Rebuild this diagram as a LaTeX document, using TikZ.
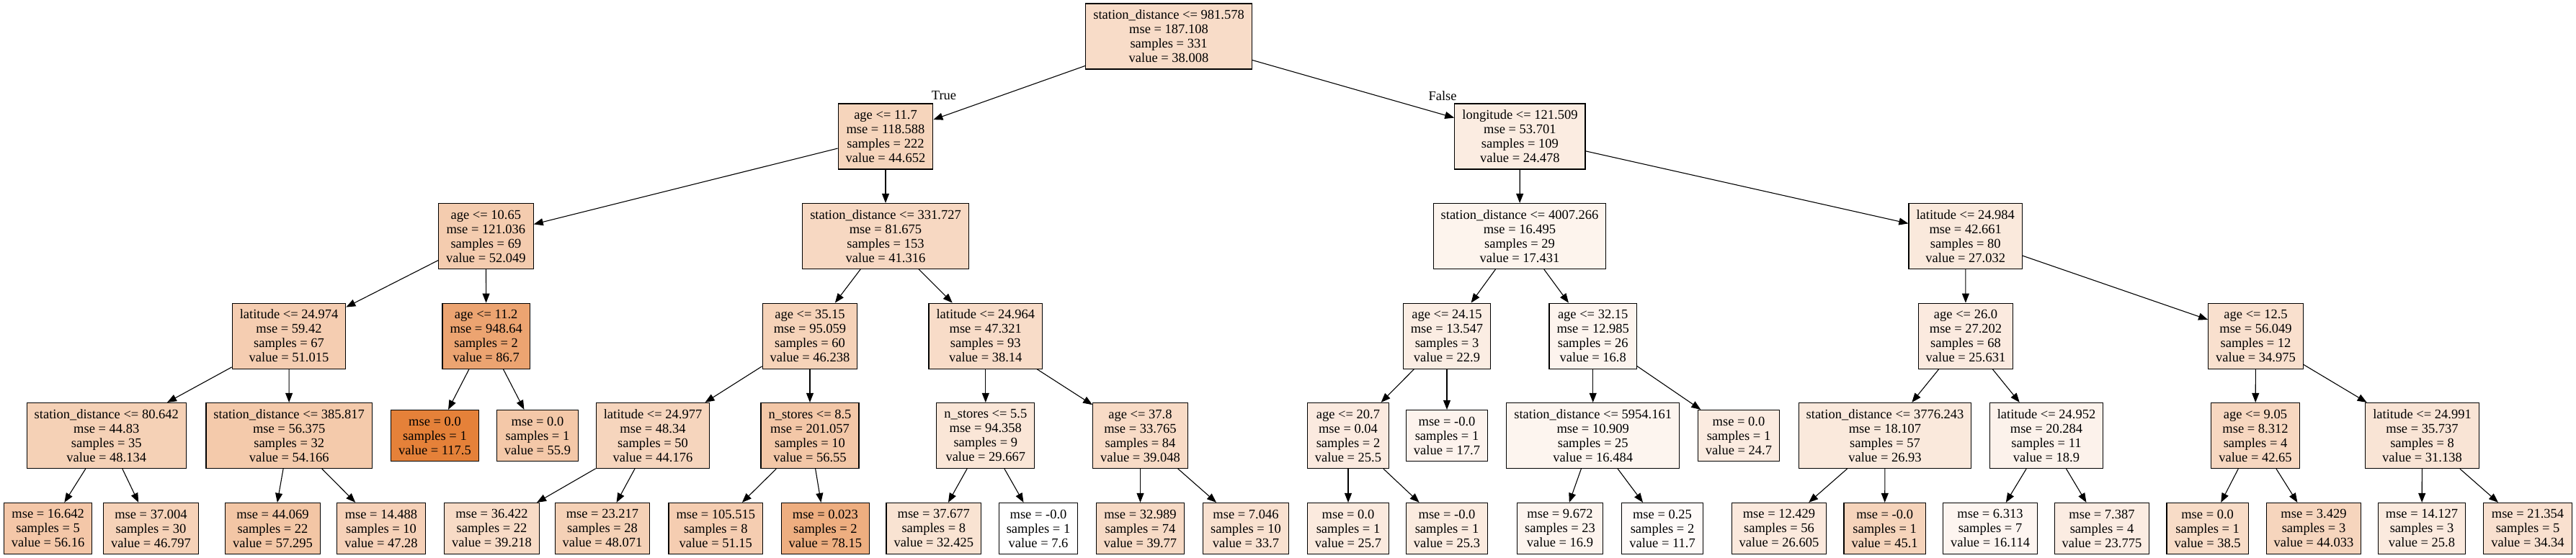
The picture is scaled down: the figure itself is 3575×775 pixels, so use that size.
\documentclass[tikz,border=0pt]{standalone}
\usepackage{fontspec}
\setmainfont{Liberation Serif}
\usepackage{tikz}
\usetikzlibrary{arrows.meta}
\definecolor{dtorange}{RGB}{229,129,57}
\tikzset{
  treebox/.style={draw, line width=1.2pt, rectangle, align=center, inner xsep=10.5pt, inner ysep=0pt, font=\fontsize{18.5}{20}\selectfont},
  splitbox/.style={treebox, minimum height=91pt, fill=dtorange!#1},
  leafbox/.style={treebox, minimum height=71pt, fill=dtorange!#1},
  edgelbl/.style={inner sep=0pt, font=\fontsize{18.5}{20}\selectfont}
}
\begin{document}
\begin{tikzpicture}[x=1pt, y=-1pt, line width=1.1pt, >={Triangle[length=13pt,width=10pt]}]
  \useasboundingbox (0,0) rectangle (3575,775);

  \node[splitbox=27.67] at (1622,50.5) (root) {station\_distance <= 981.578\\mse = 187.108\\samples = 331\\value = 38.008};

  \node[splitbox=33.71] at (1229,189.5) (nL) {age <= 11.7\\mse = 118.588\\samples = 222\\value = 44.652};
  \node[splitbox=15.36] at (2109.4,189.5) (nR) {longitude <= 121.509\\mse = 53.701\\samples = 109\\value = 24.478};

  \node[splitbox=40.45] at (674.4,328) (nLL) {age <= 10.65\\mse = 121.036\\samples = 69\\value = 52.049};
  \node[splitbox=30.68] at (1229,328) (nLR) {station\_distance <= 331.727\\mse = 81.675\\samples = 153\\value = 41.316};
  \node[splitbox=8.95] at (2109,328) (nRL) {station\_distance <= 4007.266\\mse = 16.495\\samples = 29\\value = 17.431};
  \node[splitbox=17.68] at (2727.7,328) (nRR) {latitude <= 24.984\\mse = 42.661\\samples = 80\\value = 27.032};

  \node[splitbox=39.50] at (401,466.7) (nLLL) {latitude <= 24.974\\mse = 59.42\\samples = 67\\value = 51.015};
  \node[splitbox=71.97] at (674.7,466.7) (nLLR) {age <= 11.2\\mse = 948.64\\samples = 2\\value = 86.7};
  \node[splitbox=35.16] at (1124,466.7) (nLRL) {age <= 35.15\\mse = 95.059\\samples = 60\\value = 46.238};
  \node[splitbox=27.79] at (1367.8,466.7) (nLRR) {latitude <= 24.964\\mse = 47.321\\samples = 93\\value = 38.14};
  \node[splitbox=13.92] at (2008,466.7) (nRLL) {age <= 24.15\\mse = 13.547\\samples = 3\\value = 22.9};
  \node[splitbox=8.37] at (2210.7,466.7) (nRLR) {age <= 32.15\\mse = 12.985\\samples = 26\\value = 16.8};
  \node[splitbox=16.41] at (2728,466.7) (nRRL) {age <= 26.0\\mse = 27.202\\samples = 68\\value = 25.631};
  \node[splitbox=24.91] at (3130.5,466.7) (nRRR) {age <= 12.5\\mse = 56.049\\samples = 12\\value = 34.975};

  \node[splitbox=36.88] at (147.8,605) (nLLLL) {station\_distance <= 80.642\\mse = 44.83\\samples = 35\\value = 48.134};
  \node[splitbox=42.37] at (401.2,605) (nLLLR) {station\_distance <= 385.817\\mse = 56.375\\samples = 32\\value = 54.166};
  \node[leafbox=100] at (603.5,605) (nLLRL) {mse = 0.0\\samples = 1\\value = 117.5};
  \node[leafbox=43.95] at (746,605) (nLLRR) {mse = 0.0\\samples = 1\\value = 55.9};
  \node[splitbox=33.28] at (906,605) (nLRLL) {latitude <= 24.977\\mse = 48.34\\samples = 50\\value = 44.176};
  \node[splitbox=44.54] at (1124,605) (nLRLR) {n\_stores <= 8.5\\mse = 201.057\\samples = 10\\value = 56.55};
  \node[splitbox=20.08] at (1367.8,605) (nLRRL) {n\_stores <= 5.5\\mse = 94.358\\samples = 9\\value = 29.667};
  \node[splitbox=28.62] at (1582.5,605) (nLRRR) {age <= 37.8\\mse = 33.765\\samples = 84\\value = 39.048};
  \node[splitbox=16.29] at (1871,605) (nRLLL) {age <= 20.7\\mse = 0.04\\samples = 2\\value = 25.5};
  \node[leafbox=9.19] at (2008,605) (nRLLR) {mse = -0.0\\samples = 1\\value = 17.7};
  \node[splitbox=8.08] at (2210.7,605) (nRLRL) {station\_distance <= 5954.161\\mse = 10.909\\samples = 25\\value = 16.484};
  \node[leafbox=15.56] at (2413,605) (nRLRR) {mse = 0.0\\samples = 1\\value = 24.7};
  \node[splitbox=17.59] at (2616,605) (nRRLL) {station\_distance <= 3776.243\\mse = 18.107\\samples = 57\\value = 26.93};
  \node[splitbox=10.28] at (2840,605) (nRRLR) {latitude <= 24.952\\mse = 20.284\\samples = 11\\value = 18.9};
  \node[splitbox=31.89] at (3130,605) (nRRRL) {age <= 9.05\\mse = 8.312\\samples = 4\\value = 42.65};
  \node[splitbox=21.42] at (3361.5,605) (nRRRR) {latitude <= 24.991\\mse = 35.737\\samples = 8\\value = 31.138};

  \node[leafbox=44.19] at (66.6,734) (nLLLLL) {mse = 16.642\\samples = 5\\value = 56.16};
  \node[leafbox=35.67] at (209.5,734) (nLLLLR) {mse = 37.004\\samples = 30\\value = 46.797};
  \node[leafbox=45.22] at (378.5,734) (nLLLRL) {mse = 44.069\\samples = 22\\value = 57.295};
  \node[leafbox=36.11] at (529,734) (nLLLRR) {mse = 14.488\\samples = 10\\value = 47.28};
  \node[leafbox=28.77] at (682.5,734) (nLRLLL) {mse = 36.422\\samples = 22\\value = 39.218};
  \node[leafbox=36.83] at (836,734) (nLRLLR) {mse = 23.217\\samples = 28\\value = 48.071};
  \node[leafbox=39.63] at (993.3,734) (nLRLRL) {mse = 105.515\\samples = 8\\value = 51.15};
  \node[leafbox=64.19] at (1145.4,734) (nLRLRR) {mse = 0.023\\samples = 2\\value = 78.15};
  \node[leafbox=22.59] at (1295.8,734) (nLRRLL) {mse = 37.677\\samples = 8\\value = 32.425};
  \node[leafbox=0] at (1441,734) (nLRRLR) {mse = -0.0\\samples = 1\\value = 7.6};
  \node[leafbox=29.27] at (1582.5,734) (nLRRRL) {mse = 32.989\\samples = 74\\value = 39.77};
  \node[leafbox=23.75] at (1729,734) (nLRRRR) {mse = 7.046\\samples = 10\\value = 33.7};
  \node[leafbox=16.47] at (1871,734) (nRLLLL) {mse = 0.0\\samples = 1\\value = 25.7};
  \node[leafbox=16.11] at (2008,734) (nRLLLR) {mse = -0.0\\samples = 1\\value = 25.3};
  \node[leafbox=8.46] at (2165,734) (nRLRLL) {mse = 9.672\\samples = 23\\value = 16.9};
  \node[leafbox=3.73] at (2307,734) (nRLRLR) {mse = 0.25\\samples = 2\\value = 11.7};
  \node[leafbox=17.29] at (2469,734) (nRRLLL) {mse = 12.429\\samples = 56\\value = 26.605};
  \node[leafbox=34.12] at (2615.6,734) (nRRLLR) {mse = -0.0\\samples = 1\\value = 45.1};
  \node[leafbox=7.75] at (2762,734) (nRRLRL) {mse = 6.313\\samples = 7\\value = 16.114};
  \node[leafbox=14.72] at (2917,734) (nRRLRR) {mse = 7.387\\samples = 4\\value = 23.775};
  \node[leafbox=28.12] at (3063.6,734) (nRRRLL) {mse = 0.0\\samples = 1\\value = 38.5};
  \node[leafbox=33.15] at (3211,734) (nRRRLR) {mse = 3.429\\samples = 3\\value = 44.033};
  \node[leafbox=16.56] at (3361,734) (nRRRRL) {mse = 14.127\\samples = 3\\value = 25.8};
  \node[leafbox=24.33] at (3508,734) (nRRRRR) {mse = 21.354\\samples = 5\\value = 34.34};

  \node[edgelbl] at (1310,133) (lbltrue) {True};
  \node[edgelbl] at (2002,133) (lblfalse) {False};

  \draw[->] (root) -- (nL);
  \draw[->] (root) -- (nR);
  \draw[->] (nL) -- (nLL);
  \draw[->] (nL) -- (nLR);
  \draw[->] (nR) -- (nRL);
  \draw[->] (nR) -- (nRR);
  \draw[->] (nLL) -- (nLLL);
  \draw[->] (nLL) -- (nLLR);
  \draw[->] (nLR) -- (nLRL);
  \draw[->] (nLR) -- (nLRR);
  \draw[->] (nRL) -- (nRLL);
  \draw[->] (nRL) -- (nRLR);
  \draw[->] (nRR) -- (nRRL);
  \draw[->] (nRR) -- (nRRR);
  \draw[->] (nLLL) -- (nLLLL);
  \draw[->] (nLLL) -- (nLLLR);
  \draw[->] (nLLR) -- (nLLRL);
  \draw[->] (nLLR) -- (nLLRR);
  \draw[->] (nLRL) -- (nLRLL);
  \draw[->] (nLRL) -- (nLRLR);
  \draw[->] (nLRR) -- (nLRRL);
  \draw[->] (nLRR) -- (nLRRR);
  \draw[->] (nRLL) -- (nRLLL);
  \draw[->] (nRLL) -- (nRLLR);
  \draw[->] (nRLR) -- (nRLRL);
  \draw[->] (nRLR) -- (nRLRR);
  \draw[->] (nRRL) -- (nRRLL);
  \draw[->] (nRRL) -- (nRRLR);
  \draw[->] (nRRR) -- (nRRRL);
  \draw[->] (nRRR) -- (nRRRR);
  \draw[->] (nLLLL) -- (nLLLLL);
  \draw[->] (nLLLL) -- (nLLLLR);
  \draw[->] (nLLLR) -- (nLLLRL);
  \draw[->] (nLLLR) -- (nLLLRR);
  \draw[->] (nLRLL) -- (nLRLLL);
  \draw[->] (nLRLL) -- (nLRLLR);
  \draw[->] (nLRLR) -- (nLRLRL);
  \draw[->] (nLRLR) -- (nLRLRR);
  \draw[->] (nLRRL) -- (nLRRLL);
  \draw[->] (nLRRL) -- (nLRRLR);
  \draw[->] (nLRRR) -- (nLRRRL);
  \draw[->] (nLRRR) -- (nLRRRR);
  \draw[->] (nRLLL) -- (nRLLLL);
  \draw[->] (nRLLL) -- (nRLLLR);
  \draw[->] (nRLRL) -- (nRLRLL);
  \draw[->] (nRLRL) -- (nRLRLR);
  \draw[->] (nRRLL) -- (nRRLLL);
  \draw[->] (nRRLL) -- (nRRLLR);
  \draw[->] (nRRLR) -- (nRRLRL);
  \draw[->] (nRRLR) -- (nRRLRR);
  \draw[->] (nRRRL) -- (nRRRLL);
  \draw[->] (nRRRL) -- (nRRRLR);
  \draw[->] (nRRRR) -- (nRRRRL);
  \draw[->] (nRRRR) -- (nRRRRR);
\end{tikzpicture}
\end{document}
